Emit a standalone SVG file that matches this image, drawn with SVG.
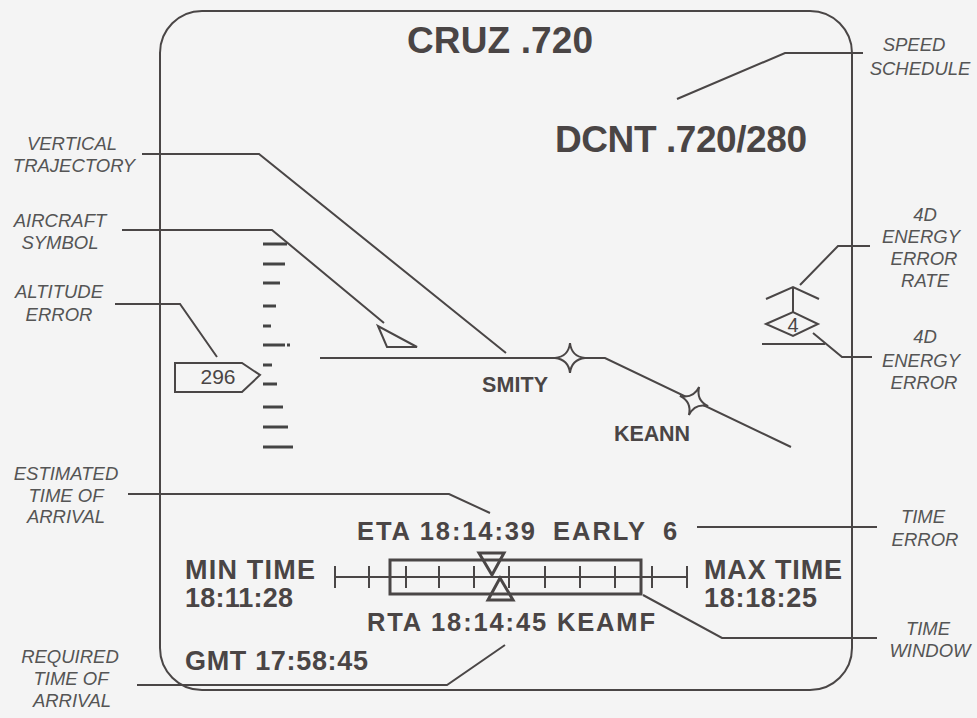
<svg xmlns="http://www.w3.org/2000/svg" width="977" height="718" viewBox="0 0 977 718">
<style>
.bg{fill:#f4f4f4}
.frame{fill:none;stroke:#4a4646;stroke-width:2}
.ln{fill:none;stroke:#4a4646;stroke-width:2;stroke-linejoin:miter}
.sym{fill:none;stroke:#4a4646;stroke-width:2}
.tick{stroke:#444;stroke-width:3}
.thk{fill:none;stroke:#4a4646;stroke-width:3}
.disp{font-family:"Liberation Sans",Arial,sans-serif;font-weight:bold;fill:#4a4545}
.lab{font-family:"Liberation Sans",Arial,sans-serif;font-style:italic;font-size:18.5px;fill:#555;text-anchor:middle}
.star{fill:#f4f4f4;stroke:#4a4646;stroke-width:2}
</style>
<rect class="bg" x="0" y="0" width="977" height="718"/>

<g id="display-frame">
<rect class="frame" x="160" y="11" width="692" height="679" rx="42" ry="42"/>
</g>

<g id="speed-schedule">
<text class="disp" x="407" y="53" font-size="37" textLength="186" lengthAdjust="spacing">CRUZ .720</text>
<text class="disp" x="555" y="152" font-size="37" textLength="252" lengthAdjust="spacing">DCNT .720/280</text>
</g>

<g id="altitude-scale">
<line class="tick" x1="263" y1="244" x2="287" y2="244"/>
<line class="tick" x1="263" y1="264" x2="285" y2="264"/>
<line class="tick" x1="263" y1="283" x2="280" y2="283"/>
<line class="tick" x1="263" y1="306" x2="276" y2="306"/>
<line class="tick" x1="263" y1="326" x2="271" y2="326"/>
<line class="tick" x1="263" y1="345" x2="282" y2="345"/>
<line class="tick" x1="282" y1="345" x2="291" y2="345" stroke-dasharray="3 2"/>
<line class="tick" x1="263" y1="365" x2="272" y2="365"/>
<line class="tick" x1="263" y1="384" x2="277" y2="384"/>
<line class="tick" x1="263" y1="407" x2="283" y2="407"/>
<line class="tick" x1="263" y1="427" x2="288" y2="427"/>
<line class="tick" x1="263" y1="447" x2="293" y2="447"/>
</g>

<g id="altitude-error">
<polygon class="sym" points="175,363 242,363 260,375 242,392 175,392"/>
<text x="218" y="384" font-family="Liberation Sans,Arial,sans-serif" font-size="21" fill="#4a4545" text-anchor="middle">296</text>
</g>

<g id="aircraft-symbol">
<polygon class="sym" points="378,326 387,347 417,347"/>
</g>

<g id="vertical-trajectory">
<polyline class="ln" points="320,358 605,358 791,447"/>
</g>

<g id="waypoint-smity">
<path class="star" transform="translate(570,358)" d="M0,-15 Q1.5,-1.5 15,0 Q1.5,1.5 0,15 Q-1.5,1.5 -15,0 Q-1.5,-1.5 0,-15 Z"/>
<text class="disp" x="482" y="392" font-size="21.5" textLength="66" lengthAdjust="spacing">SMITY</text>
</g>

<g id="waypoint-keann">
<path class="star" transform="translate(694,401) rotate(20)" d="M0,-15 Q1.5,-1.5 15,0 Q1.5,1.5 0,15 Q-1.5,1.5 -15,0 Q-1.5,-1.5 0,-15 Z"/>
<text class="disp" x="614" y="441" font-size="21.5" textLength="76" lengthAdjust="spacing">KEANN</text>
</g>

<g id="energy-error-rate">
<polyline class="sym" points="766,299 793,287 819,299"/>
<line class="sym" x1="793" y1="287" x2="793" y2="312"/>
</g>

<g id="energy-error">
<polygon class="sym" points="766,324 793,312 818,324 793,336"/>
<text x="793" y="332" font-family="Liberation Sans,Arial,sans-serif" font-size="20" fill="#4a4545" text-anchor="middle">4</text>
<line class="sym" x1="762" y1="344" x2="825" y2="344"/>
</g>

<g id="eta">
<text class="disp" y="540" font-size="25.5"><tspan x="357" textLength="178" lengthAdjust="spacing">ETA 18:14:39</tspan><tspan x="553" textLength="92" lengthAdjust="spacing">EARLY</tspan><tspan x="663">6</tspan></text>
</g>

<g id="time-window">
<line class="sym" x1="335" y1="577" x2="687" y2="577"/>
<g class="sym">
<line x1="335" y1="566" x2="335" y2="588"/>
<line x1="369" y1="566" x2="369" y2="588"/>
<line x1="406" y1="566" x2="406" y2="588"/>
<line x1="439" y1="566" x2="439" y2="588"/>
<line x1="474" y1="566" x2="474" y2="588"/>
<line x1="509" y1="566" x2="509" y2="588"/>
<line x1="545" y1="566" x2="545" y2="588"/>
<line x1="580" y1="566" x2="580" y2="588"/>
<line x1="615" y1="566" x2="615" y2="588"/>
<line x1="652" y1="566" x2="652" y2="588"/>
<line x1="687" y1="566" x2="687" y2="588"/>
</g>
<rect class="thk" x="390" y="560" width="251" height="34"/>
<polygon class="thk" points="479,553 504,553 492,575"/>
<polygon class="thk" points="500,578 513,600 488,600"/>
</g>

<g id="min-time">
<text class="disp" x="185" y="579" font-size="27" textLength="130" lengthAdjust="spacing">MIN TIME</text>
<text class="disp" x="185" y="607" font-size="27" textLength="108" lengthAdjust="spacing">18:11:28</text>
</g>

<g id="max-time">
<text class="disp" x="704" y="579" font-size="27" textLength="138" lengthAdjust="spacing">MAX TIME</text>
<text class="disp" x="704" y="607" font-size="27" textLength="113" lengthAdjust="spacing">18:18:25</text>
</g>

<g id="rta">
<text class="disp" x="367" y="631" font-size="25.5" textLength="288" lengthAdjust="spacing">RTA 18:14:45 KEAMF</text>
</g>

<g id="gmt">
<text class="disp" x="185" y="670" font-size="27" textLength="183" lengthAdjust="spacing">GMT 17:58:45</text>
</g>

<g id="connectors">
<polyline class="ln" points="863,53 785,53 677,99"/>
<polyline class="ln" points="142,154 259,154 506,353"/>
<polyline class="ln" points="122,230 272,230 384,323"/>
<polyline class="ln" points="115,304 180,304 217,357"/>
<polyline class="ln" points="870,246 838,246 800,285"/>
<polyline class="ln" points="872,357 842,357 813,333"/>
<polyline class="ln" points="128,494 449,494 490,513"/>
<polyline class="ln" points="137,685 447,685 505,645"/>
<polyline class="ln" points="697,527 877,527"/>
<polyline class="ln" points="643,595 722,638 877,638"/>
</g>

<g id="labels">
<text class="lab"><tspan x="914" y="51">SPEED</tspan><tspan x="920" y="75">SCHEDULE</tspan></text>
<text class="lab"><tspan x="72" y="150">VERTICAL</tspan><tspan x="74" y="172">TRAJECTORY</tspan></text>
<text class="lab"><tspan x="60" y="227">AIRCRAFT</tspan><tspan x="60" y="249">SYMBOL</tspan></text>
<text class="lab"><tspan x="59" y="298">ALTITUDE</tspan><tspan x="59" y="321">ERROR</tspan></text>
<text class="lab"><tspan x="925" y="221">4D</tspan><tspan x="921" y="243">ENERGY</tspan><tspan x="924" y="265">ERROR</tspan><tspan x="925" y="287">RATE</tspan></text>
<text class="lab"><tspan x="925" y="343">4D</tspan><tspan x="921" y="367">ENERGY</tspan><tspan x="924" y="389">ERROR</tspan></text>
<text class="lab"><tspan x="66" y="480">ESTIMATED</tspan><tspan x="66" y="502">TIME OF</tspan><tspan x="66" y="523">ARRIVAL</tspan></text>
<text class="lab"><tspan x="923" y="523">TIME</tspan><tspan x="925" y="546">ERROR</tspan></text>
<text class="lab"><tspan x="928" y="635">TIME</tspan><tspan x="930" y="657">WINDOW</tspan></text>
<text class="lab"><tspan x="70" y="663">REQUIRED</tspan><tspan x="71" y="685">TIME OF</tspan><tspan x="72" y="707">ARRIVAL</tspan></text>
</g>
</svg>
